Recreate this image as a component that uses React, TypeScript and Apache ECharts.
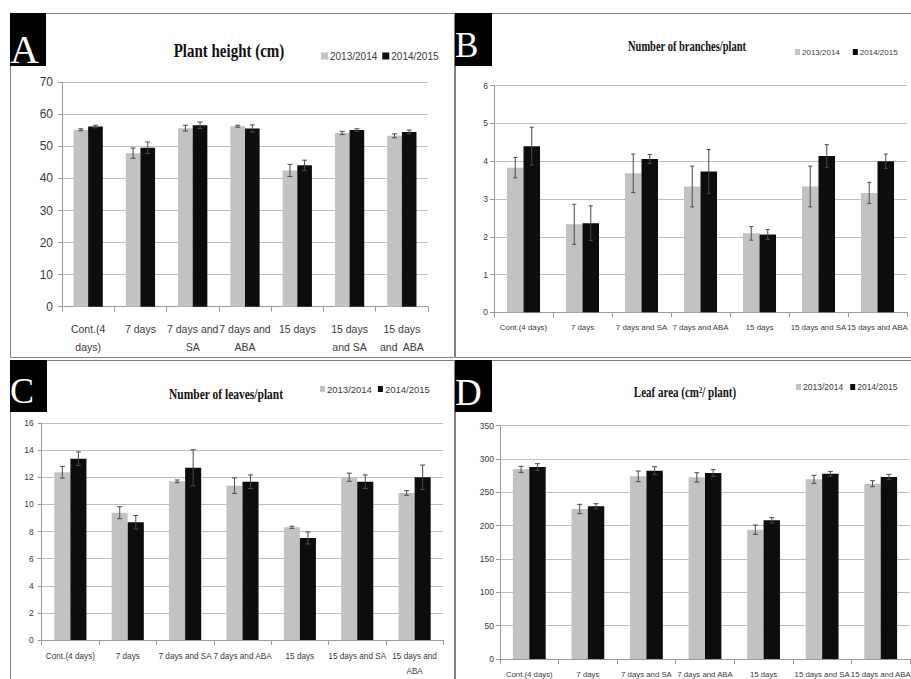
import React, { useEffect, useRef } from "react";
import * as echarts from "echarts";

const seriesNames = ["2013/2014", "2014/2015"];

const categoriesA = ["Cont.(4\ndays)", "7 days", "7 days and\nSA", "7 days and\nABA", "15 days", "15 days\nand SA", "15 days\nand  ABA"];
const categoriesB = ["Cont.(4 days)", "7 days", "7 days and SA", "7 days and ABA", "15 days", "15 days and SA", "15 days and ABA"];
const categoriesC = ["Cont.(4 days)", "7 days", "7 days and SA", "7 days and ABA", "15 days", "15 days and SA", "15 days and\nABA"];
const categoriesD = ["Cont.(4 days)", "7 days", "7 days and SA", "7 days and ABA", "15 days", "15 days and SA", "15 days and ABA"];

const heightA2013 = [55.2, 47.9, 55.7, 56.3, 42.5, 54.2, 53.3];
const heightA2013Err = [0.3, 1.6, 0.9, 0.3, 1.9, 0.5, 0.6];
const heightA2014 = [56.2, 49.6, 56.6, 55.6, 44.1, 55.1, 54.5];
const heightA2014Err = [0.4, 1.8, 1.0, 1.1, 1.6, 0.4, 0.6];

const branchesB2013 = [3.83, 2.33, 3.68, 3.33, 2.09, 3.33, 3.16];
const branchesB2013Err = [0.27, 0.53, 0.51, 0.54, 0.18, 0.54, 0.28];
const branchesB2014 = [4.4, 2.36, 4.06, 3.73, 2.06, 4.14, 4.0];
const branchesB2014Err = [0.5, 0.46, 0.12, 0.58, 0.13, 0.3, 0.19];

const leavesC2013 = [12.37, 9.39, 11.7, 11.38, 8.31, 12.0, 10.84];
const leavesC2013Err = [0.43, 0.44, 0.1, 0.57, 0.08, 0.3, 0.17];
const leavesC2014 = [13.37, 8.68, 12.7, 11.67, 7.52, 11.67, 12.0];
const leavesC2014Err = [0.5, 0.5, 1.33, 0.5, 0.44, 0.5, 0.9];

const areaD2013 = [284.5, 225, 274, 272.5, 194, 269.5, 263];
const areaD2013Err = [4.5, 7, 8, 7, 7, 6, 4.5];
const areaD2014 = [288, 229, 282.5, 279, 208, 278, 273];
const areaD2014Err = [5, 4, 6, 5, 4, 3.5, 4];

const yMaxes = [70, 6, 16, 350];
const yIntervals = [10, 1, 2, 50];
const panelLetters = ["A", "B", "C", "D"];
const panelTitles = ["Plant height (cm)", "Number of branches/plant", "Number of leaves/plant", "Leaf area (cm\u00B2/ plant)"];

const SANS = "'Liberation Sans', Arial, sans-serif";
const SERIF = "'Liberation Serif', 'Times New Roman', serif";
const GRAY = "#c2c2c2";
const BLACK = "#0d0d0d";
const TEXT = "#3a3a3a";

export default function App() {
  const ref = useRef<HTMLDivElement>(null);

  useEffect(() => {
    if (!ref.current) return;
    const chart = echarts.init(ref.current, undefined, { renderer: "svg" });

    const cats = [categoriesA, categoriesB, categoriesC, categoriesD];
    const v13 = [heightA2013, branchesB2013, leavesC2013, areaD2013];
    const e13 = [heightA2013Err, branchesB2013Err, leavesC2013Err, areaD2013Err];
    const v14 = [heightA2014, branchesB2014, leavesC2014, areaD2014];
    const e14 = [heightA2014Err, branchesB2014Err, leavesC2014Err, areaD2014Err];

    const grids = [
      { left: 62, top: 82.3, width: 366, height: 224.4 },
      { left: 494, top: 85.7, width: 413, height: 226.6 },
      { left: 41.7, top: 423, width: 401.6, height: 217 },
      { left: 500, top: 425.7, width: 410, height: 233.3 },
    ];
    const xFont = [10.5, 7.9, 8.2, 7.8];
    const xMargin = [13, 9, 9, 9];
    const xLineH = [18, 12, 15, 12];
    const yFont = [12, 8.5, 8.5, 8.5];
    const yMargin = [9, 6, 8, 6];
    const capHalf = [2.5, 2, 2.5, 2.5];

    const errSeries = (idx: number, vals: number[], errs: number[], side: number) => ({
      type: "custom",
      xAxisIndex: idx,
      yAxisIndex: idx,
      silent: true,
      z: 10,
      data: vals.map((v, i) => [i, v, errs[i]]),
      encode: { x: 0, y: 1 },
      renderItem: (_p: any, api: any) => {
        const i = api.value(0);
        const v = api.value(1);
        const e = api.value(2);
        const band = api.size([1, 0])[0];
        const x = api.coord([i, v])[0] + side * band * 0.14;
        const yTop = api.coord([i, v + e])[1];
        const yBot = api.coord([i, v - e])[1];
        const c = capHalf[idx];
        const st = { stroke: "#4a4a4a", lineWidth: 1 };
        return {
          type: "group",
          children: [
            { type: "line", shape: { x1: x, y1: yTop, x2: x, y2: yBot }, style: st },
            { type: "line", shape: { x1: x - c, y1: yTop, x2: x + c, y2: yTop }, style: st },
            { type: "line", shape: { x1: x - c, y1: yBot, x2: x + c, y2: yBot }, style: st },
          ],
        };
      },
    });

    const series: any[] = [];
    for (let k = 0; k < 4; k++) {
      series.push({
        type: "bar",
        name: seriesNames[0],
        xAxisIndex: k,
        yAxisIndex: k,
        data: v13[k],
        barWidth: "28%",
        barGap: "0%",
        itemStyle: { color: GRAY },
      });
      series.push({
        type: "bar",
        name: seriesNames[1],
        xAxisIndex: k,
        yAxisIndex: k,
        data: v14[k],
        barWidth: "28%",
        barGap: "0%",
        itemStyle: { color: BLACK },
      });
      series.push(errSeries(k, v13[k], e13[k], -1));
      series.push(errSeries(k, v14[k], e14[k], 1));
    }

    const legendPos = [
      { left: 321, top: 51, fs: 10, gap: 5, w: 7, h: 7 },
      { left: 795, top: 48, fs: 8, gap: 13, w: 5, h: 6 },
      { left: 320, top: 384, fs: 9.5, gap: 6, w: 5, h: 6 },
      { left: 796, top: 382.5, fs: 8.5, gap: 7, w: 5, h: 6 },
    ];

    const borders = [
      { x: 10.5, y: 13.5, w: 444, h: 344 },
      { x: 455.5, y: 13.5, w: 460, h: 344 },
      { x: 10.5, y: 360.5, w: 444, h: 330 },
      { x: 455.5, y: 360.5, w: 460, h: 330 },
    ];
    const boxes = [
      { x: 10, y: 13, w: 36, h: 53, lx: 10, ly: 49, fs: 40 },
      { x: 455, y: 13, w: 37, h: 53, lx: 455, ly: 45, fs: 35 },
      { x: 10, y: 360, w: 37, h: 52, lx: 10, ly: 391, fs: 36 },
      { x: 455, y: 360, w: 37, h: 52, lx: 455, ly: 392, fs: 37 },
    ];
    const titlePos = [
      { x: 229, y: 51, fs: 15 },
      { x: 687, y: 47, fs: 10.5 },
      { x: 226, y: 394, fs: 11.5 },
      { x: 685, y: 393, fs: 11 },
    ];

    const graphic: any[] = [];
    for (let k = 0; k < 4; k++) {
      const b = borders[k];
      graphic.push({ type: "rect", shape: { x: b.x, y: b.y, width: b.w, height: b.h }, style: { fill: "none", stroke: "#808080", lineWidth: 1 }, silent: true });
      const bx = boxes[k];
      graphic.push({ type: "rect", shape: { x: bx.x, y: bx.y, width: bx.w, height: bx.h }, style: { fill: "#000" }, silent: true });
      graphic.push({
        type: "text",
        x: bx.lx,
        y: bx.ly,
        style: { text: panelLetters[k], fill: "#fff", font: `${bx.fs}px ${SERIF}`, textAlign: "left", textVerticalAlign: "middle" },
        silent: true,
      });
      const t = titlePos[k];
      graphic.push({
        type: "text",
        x: t.x,
        y: t.y,
        scaleY: 1.3,
        style: { text: panelTitles[k], fill: "#111", font: `bold ${t.fs}px ${SERIF}`, textAlign: "center", textVerticalAlign: "middle" },
        silent: true,
      });
    }

    chart.setOption({
      animation: false,
      backgroundColor: "#fff",
      grid: grids.map((g) => ({ ...g, containLabel: false, outerBoundsMode: "none" })),
      xAxis: grids.map((_g, k) => ({
        type: "category",
        gridIndex: k,
        data: cats[k],
        axisLine: { show: true, lineStyle: { color: "#9a9a9a", width: 1 } },
        axisTick: { show: true, length: 5, lineStyle: { color: "#9a9a9a" } },
        axisLabel: { interval: 0, color: TEXT, fontSize: xFont[k], fontFamily: SANS, margin: xMargin[k], lineHeight: xLineH[k], hideOverlap: false },
        splitLine: { show: false },
      })),
      yAxis: grids.map((_g, k) => ({
        type: "value",
        gridIndex: k,
        min: 0,
        max: yMaxes[k],
        interval: yIntervals[k],
        axisLine: { show: true, lineStyle: { color: "#9a9a9a", width: 1 } },
        axisTick: { show: true, length: 4, lineStyle: { color: "#9a9a9a" } },
        axisLabel: { color: TEXT, fontSize: yFont[k], fontFamily: SANS, margin: yMargin[k] },
        splitLine: { show: true, lineStyle: { color: "#bdbdbd", width: 1 } },
      })),
      legend: legendPos.map((l) => ({
        left: l.left,
        top: l.top,
        width: 300,
        padding: 0,
        itemGap: l.gap,
        itemWidth: l.w,
        itemHeight: l.h,
        icon: "rect",
        selectedMode: false,
        data: seriesNames,
        textStyle: { fontSize: l.fs, fontFamily: SANS, color: TEXT, padding: [0, 0, 0, -3] },
      })),
      series,
      graphic,
    });

    return () => chart.dispose();
  }, []);

  return <div ref={ref} style={{ position: "absolute", left: 0, top: 0, width: 911, height: 679 }} />;
}
